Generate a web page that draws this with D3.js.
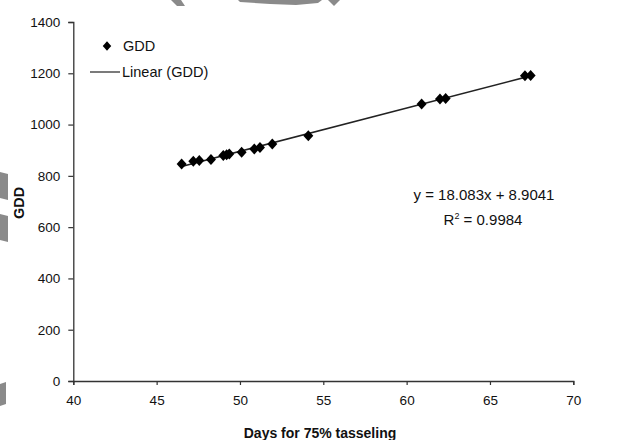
<!DOCTYPE html>
<html><head><meta charset="utf-8">
<script src="https://cdn.jsdelivr.net/npm/d3@7"></script>
<style>body{margin:0;background:#fff}svg{display:block}text{font-family:"Liberation Sans",Arial,sans-serif;fill:#111}</style>
</head><body>
<script>
// Data
const days = [46.50, 47.20, 47.56, 48.26, 49.00, 49.20, 49.36, 50.10, 50.86, 51.20, 51.94, 54.10, 60.90, 62.00, 62.34, 67.10, 67.44];
const gdd  = [846.6, 856.8, 859.5, 863.4, 879.0, 882.0, 885.5, 891.9, 905.0, 911.0, 924.4, 956.8, 1080, 1099.6, 1102, 1190, 1191];
const xTicks = [40, 45, 50, 55, 60, 65, 70];
const yTicks = [0, 200, 400, 600, 800, 1000, 1200, 1400];
const legendLabels = ["GDD", "Linear (GDD)"];
const equationText = "y = 18.083x + 8.9041";
const r2Value = "0.9984";
const xTitle = "Days for 75% tasseling";
const yTitle = "GDD";

const W = 627, H = 440;
const m = {left: 73.3, right: 627 - 573.3, top: 22, bottom: 440 - 381};
const svg = d3.select("body").append("svg").attr("width", W).attr("height", H);

// faint watermark fragments
const wm = svg.append("g").attr("fill", "#8a8a8a");
wm.append("path").attr("d", "M171,0 L181,0 L185,6 L177,6 Z");
wm.append("path").attr("d", "M238,0 L322,0 L318,3 L296,5 L270,4 L240,2 Z");
wm.append("path").attr("d", "M328,0 L340,0 L334,6 Z");
wm.append("path").attr("d", "M0,172 L8,174 L8,200 L0,198 Z");
wm.append("path").attr("d", "M0,214 L8,216 L8,242 L0,240 Z");
wm.append("path").attr("d", "M0,384 L6,382 L6,404 L0,406 Z");

const x = d3.scaleLinear().domain([40, 70]).range([m.left, W - m.right]);
const y = d3.scaleLinear().domain([0, 1400]).range([H - m.bottom, m.top]);

const xAxis = svg.append("g").attr("transform", `translate(0,${H - m.bottom})`)
  .call(d3.axisBottom(x).tickValues(xTicks).tickSize(4).tickPadding(10).tickFormat(d3.format("d")));
const yAxis = svg.append("g").attr("transform", `translate(${m.left},0)`)
  .call(d3.axisLeft(y).tickValues(yTicks).tickSize(5).tickPadding(8).tickFormat(d3.format("d")));
[xAxis, yAxis].forEach(g => {
  g.selectAll("path.domain").attr("stroke", "#333").attr("stroke-width", 1.3);
  g.selectAll(".tick line").attr("stroke", "#333").attr("stroke-width", 1.2);
  g.selectAll(".tick text").attr("font-size", 13.5).attr("font-family", "Liberation Sans, Arial, sans-serif").attr("fill", "#222");
});

// least squares trend line from the data
const mx = d3.mean(days), my = d3.mean(gdd);
const slope = d3.sum(days.map((d, i) => (d - mx) * (gdd[i] - my))) / d3.sum(days.map(d => (d - mx) ** 2));
const icpt = my - slope * mx;
const xr = d3.extent(days);
svg.append("line")
  .attr("x1", x(xr[0])).attr("y1", y(icpt + slope * xr[0]))
  .attr("x2", x(xr[1])).attr("y2", y(icpt + slope * xr[1]))
  .attr("stroke", "#222").attr("stroke-width", 1.6);

const diamond = {draw(ctx, size) { const r = Math.sqrt(size) / 2; ctx.moveTo(0, -r*1.1); ctx.lineTo(r, 0); ctx.lineTo(0, r*1.1); ctx.lineTo(-r, 0); ctx.closePath(); }};
const sym = d3.symbol().type(diamond).size(100);
svg.append("g").selectAll("path").data(days).join("path")
  .attr("transform", (d, i) => `translate(${x(d)},${y(gdd[i])})`)
  .attr("d", sym).attr("fill", "#000");

// legend
const lg = svg.append("g");
lg.append("path").attr("transform", "translate(107,46)").attr("d", d3.symbol().type(diamond).size(72)).attr("fill", "#000");
lg.append("text").attr("x", 123).attr("y", 51).attr("font-size", 14.5).text(legendLabels[0]);
lg.append("line").attr("x1", 90).attr("x2", 120).attr("y1", 72).attr("y2", 72).attr("stroke", "#333").attr("stroke-width", 1.3);
lg.append("text").attr("x", 122).attr("y", 77).attr("font-size", 14.5).text(legendLabels[1]);

// equation
svg.append("text").attr("x", 484).attr("y", 200).attr("text-anchor", "middle").attr("font-size", 15).text(equationText);
const r2 = svg.append("text").attr("x", 483).attr("y", 225).attr("text-anchor", "middle").attr("font-size", 15);
r2.append("tspan").text("R");
r2.append("tspan").attr("dy", -6).attr("font-size", 9).text("2");
r2.append("tspan").attr("dy", 6).text(" = " + r2Value);

// titles
svg.append("text").attr("x", 320).attr("y", 438).attr("text-anchor", "middle").attr("font-size", 14).attr("font-weight", "bold").text(xTitle);
svg.append("text").attr("transform", "translate(24,203) rotate(-90)").attr("text-anchor", "middle").attr("font-size", 14.5).attr("font-weight", "bold").text(yTitle);
</script>
</body></html>
